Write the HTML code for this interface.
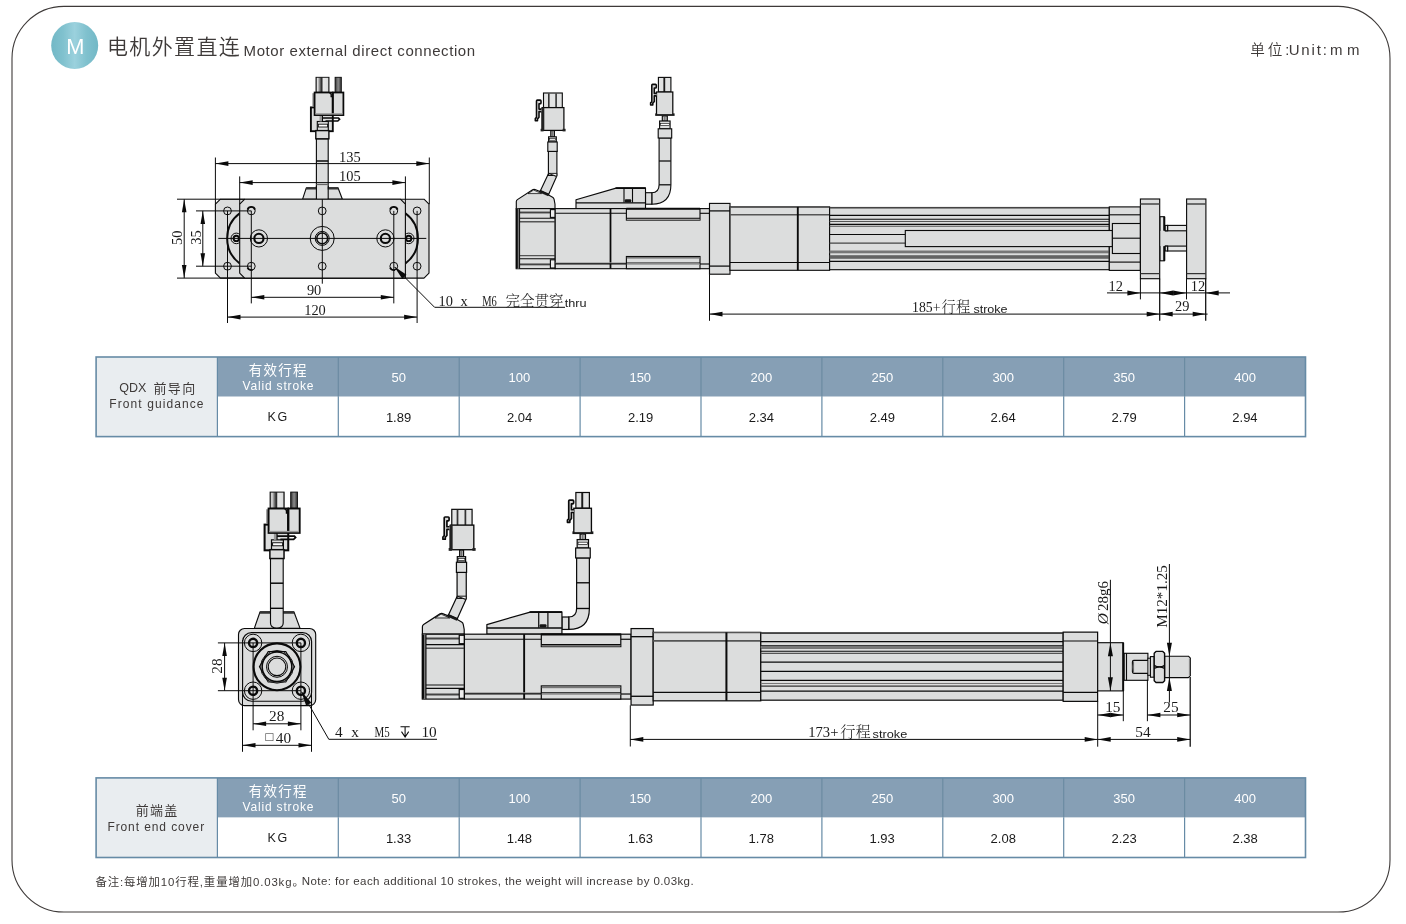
<!DOCTYPE html>
<html lang="zh-CN">
<head>
<meta charset="utf-8">
<title>电机外置直连 Motor external direct connection</title>
<style>
html,body{margin:0;padding:0;background:#fff;}
body{width:1406px;height:924px;position:relative;overflow:hidden;font-family:"Liberation Sans","Noto Sans CJK SC",sans-serif;color:#3e3a39;}
.t{position:absolute;white-space:pre;line-height:1;}
.w{color:#fff;}
.k{color:#1a1a1a;}
svg{position:absolute;left:0;top:0;}
svg{opacity:.999;}
header,section,footer{position:absolute;left:0;top:0;width:1406px;height:924px;will-change:transform;}
svg text{font-family:"Liberation Serif","Noto Serif CJK SC",serif;fill:#1a1a1a;}
svg text.s{font-family:"Liberation Sans","Noto Sans CJK SC",sans-serif;}
</style>
</head>
<body>
<svg width="1406" height="924" viewBox="0 0 1406 924">
<defs><linearGradient id="bg" x1="0" x2="1" y1="0" y2="0"><stop offset="0" stop-color="#72b8c6"/><stop offset=".25" stop-color="#80c1ce"/><stop offset=".5" stop-color="#9bd1dd"/><stop offset=".75" stop-color="#80c1ce"/><stop offset="1" stop-color="#72b8c6"/></linearGradient></defs>
<rect x="12" y="6.4" width="1378" height="905.6" rx="52" ry="52" fill="none" stroke="#3e3a39" stroke-width="1.1"/>
<circle cx="74.7" cy="45.5" r="23.5" fill="url(#bg)"/>
<rect x="96.1" y="357" width="121.3" height="79.6" fill="#e9edf0"/>
<rect x="217.4" y="357" width="1088.1" height="39.7" fill="#869fb5"/>
<rect x="217.4" y="396.7" width="1088.1" height="39.9" fill="#fff"/>
<line x1="217.4" y1="357" x2="217.4" y2="436.6" stroke="#668ba6" stroke-width="1.2"/>
<line x1="338.3" y1="357" x2="338.3" y2="396.7" stroke="#6b8ba2" stroke-width="1.2"/>
<line x1="338.3" y1="396.7" x2="338.3" y2="436.6" stroke="#668ba6" stroke-width="1.2"/>
<line x1="459.2" y1="357" x2="459.2" y2="396.7" stroke="#6b8ba2" stroke-width="1.2"/>
<line x1="459.2" y1="396.7" x2="459.2" y2="436.6" stroke="#668ba6" stroke-width="1.2"/>
<line x1="580.1" y1="357" x2="580.1" y2="396.7" stroke="#6b8ba2" stroke-width="1.2"/>
<line x1="580.1" y1="396.7" x2="580.1" y2="436.6" stroke="#668ba6" stroke-width="1.2"/>
<line x1="701" y1="357" x2="701" y2="396.7" stroke="#6b8ba2" stroke-width="1.2"/>
<line x1="701" y1="396.7" x2="701" y2="436.6" stroke="#668ba6" stroke-width="1.2"/>
<line x1="821.9" y1="357" x2="821.9" y2="396.7" stroke="#6b8ba2" stroke-width="1.2"/>
<line x1="821.9" y1="396.7" x2="821.9" y2="436.6" stroke="#668ba6" stroke-width="1.2"/>
<line x1="942.8" y1="357" x2="942.8" y2="396.7" stroke="#6b8ba2" stroke-width="1.2"/>
<line x1="942.8" y1="396.7" x2="942.8" y2="436.6" stroke="#668ba6" stroke-width="1.2"/>
<line x1="1063.7" y1="357" x2="1063.7" y2="396.7" stroke="#6b8ba2" stroke-width="1.2"/>
<line x1="1063.7" y1="396.7" x2="1063.7" y2="436.6" stroke="#668ba6" stroke-width="1.2"/>
<line x1="1184.6" y1="357" x2="1184.6" y2="396.7" stroke="#6b8ba2" stroke-width="1.2"/>
<line x1="1184.6" y1="396.7" x2="1184.6" y2="436.6" stroke="#668ba6" stroke-width="1.2"/>
<rect x="96.1" y="357" width="1209.4" height="79.6" fill="none" stroke="#668ba6" stroke-width="1.6"/>
<rect x="96.1" y="777.9" width="121.3" height="79.6" fill="#e9edf0"/>
<rect x="217.4" y="777.9" width="1088.1" height="39.7" fill="#869fb5"/>
<rect x="217.4" y="817.6" width="1088.1" height="39.9" fill="#fff"/>
<line x1="217.4" y1="777.9" x2="217.4" y2="857.5" stroke="#668ba6" stroke-width="1.2"/>
<line x1="338.3" y1="777.9" x2="338.3" y2="817.6" stroke="#6b8ba2" stroke-width="1.2"/>
<line x1="338.3" y1="817.6" x2="338.3" y2="857.5" stroke="#668ba6" stroke-width="1.2"/>
<line x1="459.2" y1="777.9" x2="459.2" y2="817.6" stroke="#6b8ba2" stroke-width="1.2"/>
<line x1="459.2" y1="817.6" x2="459.2" y2="857.5" stroke="#668ba6" stroke-width="1.2"/>
<line x1="580.1" y1="777.9" x2="580.1" y2="817.6" stroke="#6b8ba2" stroke-width="1.2"/>
<line x1="580.1" y1="817.6" x2="580.1" y2="857.5" stroke="#668ba6" stroke-width="1.2"/>
<line x1="701" y1="777.9" x2="701" y2="817.6" stroke="#6b8ba2" stroke-width="1.2"/>
<line x1="701" y1="817.6" x2="701" y2="857.5" stroke="#668ba6" stroke-width="1.2"/>
<line x1="821.9" y1="777.9" x2="821.9" y2="817.6" stroke="#6b8ba2" stroke-width="1.2"/>
<line x1="821.9" y1="817.6" x2="821.9" y2="857.5" stroke="#668ba6" stroke-width="1.2"/>
<line x1="942.8" y1="777.9" x2="942.8" y2="817.6" stroke="#6b8ba2" stroke-width="1.2"/>
<line x1="942.8" y1="817.6" x2="942.8" y2="857.5" stroke="#668ba6" stroke-width="1.2"/>
<line x1="1063.7" y1="777.9" x2="1063.7" y2="817.6" stroke="#6b8ba2" stroke-width="1.2"/>
<line x1="1063.7" y1="817.6" x2="1063.7" y2="857.5" stroke="#668ba6" stroke-width="1.2"/>
<line x1="1184.6" y1="777.9" x2="1184.6" y2="817.6" stroke="#6b8ba2" stroke-width="1.2"/>
<line x1="1184.6" y1="817.6" x2="1184.6" y2="857.5" stroke="#668ba6" stroke-width="1.2"/>
<rect x="96.1" y="777.9" width="1209.4" height="79.6" fill="none" stroke="#668ba6" stroke-width="1.6"/>
</svg>
<header>
<span class="t w" style="left:66.15px;top:35.65px;font-size:21.8px;">M</span>
<span class="t" style="left:106.95px;top:35.82px;font-size:21px;letter-spacing:1.380px;font-weight:350;">电机外置直连</span>
<span class="t" style="left:243.55px;top:42.90px;font-size:15px;letter-spacing:0.585px;">Motor external direct connection</span>
<span class="t" style="left:1250.35px;top:42.54px;font-size:14.6px;letter-spacing:2.825px;font-weight:350;">单位:</span>
<span class="t" style="left:1288.65px;top:42.30px;font-size:15px;letter-spacing:1.837px;">Unit:</span>
<span class="t" style="left:1330.00px;top:42.30px;font-size:15px;letter-spacing:4.400px;">mm</span>
</header>
<section>
<div role="table" aria-label="QDX 前导向 Front guidance">
<div role="row">
<div role="rowheader">
<span class="t" style="left:119.30px;top:382.32px;font-size:12.5px;letter-spacing:0.025px;">QDX</span>
<span class="t" style="left:153.45px;top:382.10px;font-size:13px;letter-spacing:1.350px;">前导向</span>
<span class="t" style="left:109.30px;top:398.49px;font-size:12px;letter-spacing:1.092px;">Front guidance</span>
</div>
<div role="columnheader">
<span class="t w" style="left:248.70px;top:364.32px;font-size:13.5px;letter-spacing:1.300px;">有效行程</span>
<span class="t w" style="left:242.50px;top:380.44px;font-size:12px;letter-spacing:0.832px;">Valid stroke</span>
</div>
<div role="columnheader"><span class="t w" style="left:391.50px;top:370.70px;font-size:13px;">50</span></div>
<div role="columnheader"><span class="t w" style="left:508.53px;top:370.70px;font-size:13px;">100</span></div>
<div role="columnheader"><span class="t w" style="left:629.42px;top:370.70px;font-size:13px;">150</span></div>
<div role="columnheader"><span class="t w" style="left:750.58px;top:370.70px;font-size:13px;">200</span></div>
<div role="columnheader"><span class="t w" style="left:871.48px;top:370.70px;font-size:13px;">250</span></div>
<div role="columnheader"><span class="t w" style="left:992.38px;top:370.70px;font-size:13px;">300</span></div>
<div role="columnheader"><span class="t w" style="left:1113.28px;top:370.70px;font-size:13px;">350</span></div>
<div role="columnheader"><span class="t w" style="left:1234.30px;top:370.70px;font-size:13px;">400</span></div>
</div>
<div role="row">
<div role="cell"><span class="t k" style="left:267.40px;top:411.02px;font-size:12.5px;letter-spacing:1.850px;">KG</span></div>
<div role="cell"><span class="t k" style="left:385.88px;top:410.60px;font-size:13px;">1.89</span></div>
<div role="cell"><span class="t k" style="left:506.90px;top:410.60px;font-size:13px;">2.04</span></div>
<div role="cell"><span class="t k" style="left:627.92px;top:410.60px;font-size:13px;">2.19</span></div>
<div role="cell"><span class="t k" style="left:748.70px;top:410.60px;font-size:13px;">2.34</span></div>
<div role="cell"><span class="t k" style="left:869.73px;top:410.60px;font-size:13px;">2.49</span></div>
<div role="cell"><span class="t k" style="left:990.50px;top:410.60px;font-size:13px;">2.64</span></div>
<div role="cell"><span class="t k" style="left:1111.53px;top:410.60px;font-size:13px;">2.79</span></div>
<div role="cell"><span class="t k" style="left:1232.30px;top:410.60px;font-size:13px;">2.94</span></div>
</div>
</div>
</section>
<section>
<div role="table" aria-label="前端盖 Front end cover">
<div role="row">
<div role="rowheader">
<span class="t" style="left:135.65px;top:804.10px;font-size:13px;letter-spacing:1.325px;">前端盖</span>
<span class="t" style="left:107.40px;top:821.04px;font-size:12px;letter-spacing:0.907px;">Front end cover</span>
</div>
<div role="columnheader">
<span class="t w" style="left:248.70px;top:785.32px;font-size:13.5px;letter-spacing:1.300px;">有效行程</span>
<span class="t w" style="left:242.50px;top:801.44px;font-size:12px;letter-spacing:0.832px;">Valid stroke</span>
</div>
<div role="columnheader"><span class="t w" style="left:391.50px;top:791.70px;font-size:13px;">50</span></div>
<div role="columnheader"><span class="t w" style="left:508.53px;top:791.70px;font-size:13px;">100</span></div>
<div role="columnheader"><span class="t w" style="left:629.42px;top:791.70px;font-size:13px;">150</span></div>
<div role="columnheader"><span class="t w" style="left:750.58px;top:791.70px;font-size:13px;">200</span></div>
<div role="columnheader"><span class="t w" style="left:871.48px;top:791.70px;font-size:13px;">250</span></div>
<div role="columnheader"><span class="t w" style="left:992.38px;top:791.70px;font-size:13px;">300</span></div>
<div role="columnheader"><span class="t w" style="left:1113.28px;top:791.70px;font-size:13px;">350</span></div>
<div role="columnheader"><span class="t w" style="left:1234.30px;top:791.70px;font-size:13px;">400</span></div>
</div>
<div role="row">
<div role="cell"><span class="t k" style="left:267.40px;top:832.02px;font-size:12.5px;letter-spacing:1.850px;">KG</span></div>
<div role="cell"><span class="t k" style="left:385.88px;top:831.60px;font-size:13px;">1.33</span></div>
<div role="cell"><span class="t k" style="left:506.78px;top:831.60px;font-size:13px;">1.48</span></div>
<div role="cell"><span class="t k" style="left:627.67px;top:831.60px;font-size:13px;">1.63</span></div>
<div role="cell"><span class="t k" style="left:748.58px;top:831.60px;font-size:13px;">1.78</span></div>
<div role="cell"><span class="t k" style="left:869.48px;top:831.60px;font-size:13px;">1.93</span></div>
<div role="cell"><span class="t k" style="left:990.62px;top:831.60px;font-size:13px;">2.08</span></div>
<div role="cell"><span class="t k" style="left:1111.53px;top:831.60px;font-size:13px;">2.23</span></div>
<div role="cell"><span class="t k" style="left:1232.43px;top:831.60px;font-size:13px;">2.38</span></div>
</div>
</div>
</section>
<footer>
<span class="t" style="left:95.50px;top:876.55px;font-size:11.4px;letter-spacing:0.876px;">备注:每增加10行程,重量增加0.03kg。</span>
<span class="t" style="left:301.80px;top:876.47px;font-size:11.5px;letter-spacing:0.417px;">Note: for each additional 10 strokes, the weight will increase by 0.03kg.</span>
</footer>
<svg width="1406" height="924" viewBox="0 0 1406 924">
<defs>
<linearGradient id="pinA" x1="0" x2="1" y1="0" y2="0"><stop offset="0" stop-color="#555"/><stop offset=".12" stop-color="#e4e4e4"/><stop offset=".3" stop-color="#777"/><stop offset=".45" stop-color="#222"/><stop offset=".55" stop-color="#e8e8e8"/><stop offset=".9" stop-color="#dcdddd"/><stop offset="1" stop-color="#555"/></linearGradient>
<linearGradient id="pinB" x1="0" x2="1" y1="0" y2="0"><stop offset="0" stop-color="#333"/><stop offset=".5" stop-color="#8a8a8a"/><stop offset="1" stop-color="#333"/></linearGradient>
</defs>
<g id="d1-end">
<rect x="316.4" y="138.8" width="11.8" height="60.4" fill="#dcdddd" stroke="#0a0a0a" stroke-width="1.12"/>
<line x1="316.4" y1="161" x2="328.2" y2="161" stroke="#0a0a0a" stroke-width="1.5"/>
<line x1="316.4" y1="184.5" x2="328.2" y2="184.5" stroke="#666" stroke-width="1.25"/>
<rect x="316" y="77.3" width="13" height="15" fill="url(#pinA)" stroke="#0a0a0a" stroke-width="0.9"/><rect x="335.1" y="77.3" width="6.2" height="15" fill="url(#pinB)" stroke="#0a0a0a" stroke-width="0.9"/><rect x="310.9" y="107.4" width="21.9" height="23.8" fill="#dcdddd" stroke="#0a0a0a" stroke-width="1.88"/><rect x="317.3" y="121.5" width="11" height="9.7" fill="#dcdddd" stroke="#0a0a0a" stroke-width="1.12"/><rect x="318.3" y="124.2" width="9.3" height="2.8" fill="#fff" stroke="#0a0a0a" stroke-width="0.88"/><path d="M322.2 115.3 V121.5 M322.2 118 H338.5 L339.6 119.3 L337.8 121 H325.5" fill="none" stroke="#0a0a0a" stroke-width="1.62"/><rect x="319.5" y="115.3" width="2.4" height="6.2" fill="#999"/><rect x="312.4" y="93.2" width="2.2" height="13.6" fill="#8a8a8a"/><rect x="314.6" y="92.5" width="18" height="22.6" fill="#dcdddd" stroke="#0a0a0a" stroke-width="1.75"/><rect x="333" y="92.5" width="10.4" height="22.6" fill="#dcdddd" stroke="#0a0a0a" stroke-width="1.75"/><rect x="315.3" y="113.2" width="27.4" height="1.4" fill="#9a9a9a"/><path d="M329.5 92.5 L331.2 94.2 V96.6 H332.6" fill="none" stroke="#0a0a0a" stroke-width="1.38"/><rect x="315.8" y="130.6" width="13.1" height="8.2" fill="#dcdddd" stroke="#0a0a0a" stroke-width="1.38"/>
<path d="M302.6 199.2 L306.3 187.8 L338 187.8 L342.4 199.2 Z" fill="#dcdddd" stroke="#0a0a0a" stroke-width="1.12" stroke-linejoin="round"/>
<path d="M305.7 189.5 L306.5 187.4 L338.2 187.4 L339 189.5 Z" fill="#333"/>
<rect x="316.9" y="186" width="10.8" height="13.2" fill="#dcdddd"/>
<line x1="316.4" y1="186" x2="316.4" y2="199.2" stroke="#0a0a0a" stroke-width="1.12"/>
<line x1="328.2" y1="186" x2="328.2" y2="199.2" stroke="#0a0a0a" stroke-width="1.12"/>
<path d="M220.4 199.2 L424 199.2 L429 204.2 L429 273.1 L424 278.1 L220.4 278.1 L215.4 273.1 L215.4 204.2 Z" fill="#dcdddd" stroke="#0a0a0a" stroke-width="1.12" stroke-linejoin="round"/>
<path d="M239.7 213.3 A31.4 31.4 0 0 0 239.7 263.5" fill="none" stroke="#0a0a0a" stroke-width="2"/>
<path d="M405.4 213.3 A31.4 31.4 0 0 1 405.4 263.5" fill="none" stroke="#0a0a0a" stroke-width="2"/>
<circle cx="236.3" cy="238.4" r="5.3" fill="none" stroke="#0a0a0a" stroke-width="1"/>
<circle cx="236.3" cy="238.4" r="2.7" fill="none" stroke="#0a0a0a" stroke-width="1.88"/>
<circle cx="408.7" cy="238.4" r="5.3" fill="none" stroke="#0a0a0a" stroke-width="1"/>
<circle cx="408.7" cy="238.4" r="2.7" fill="none" stroke="#0a0a0a" stroke-width="1.88"/>
<path d="M244.7 199.2 L400.4 199.2 L405.4 204.2 L405.4 278.1 L244.7 278.1 L239.7 273.1 L239.7 204.2 Z" fill="#dcdddd" stroke="#0a0a0a" stroke-width="1.12" stroke-linejoin="round"/>
<circle cx="227.5" cy="210.9" r="3.9" fill="none" stroke="#0a0a0a" stroke-width="1"/>
<circle cx="227.5" cy="266.2" r="3.9" fill="none" stroke="#0a0a0a" stroke-width="1"/>
<circle cx="251.3" cy="210.9" r="3.9" fill="none" stroke="#0a0a0a" stroke-width="1"/>
<circle cx="251.3" cy="266.2" r="3.9" fill="none" stroke="#0a0a0a" stroke-width="1"/>
<circle cx="322.2" cy="210.9" r="3.9" fill="none" stroke="#0a0a0a" stroke-width="1"/>
<circle cx="322.2" cy="266.2" r="3.9" fill="none" stroke="#0a0a0a" stroke-width="1"/>
<circle cx="393.8" cy="210.9" r="3.9" fill="none" stroke="#0a0a0a" stroke-width="1"/>
<circle cx="393.8" cy="266.2" r="3.9" fill="none" stroke="#0a0a0a" stroke-width="1"/>
<circle cx="417.1" cy="210.9" r="3.9" fill="none" stroke="#0a0a0a" stroke-width="1"/>
<circle cx="417.1" cy="266.2" r="3.9" fill="none" stroke="#0a0a0a" stroke-width="1"/>
<path d="M247.6 209.6 A3.9 3.9 0 0 1 255 209.6" fill="none" stroke="#0a0a0a" stroke-width="1.88"/>
<path d="M247.6 267.6 A3.9 3.9 0 0 0 252.5 269.9" fill="none" stroke="#0a0a0a" stroke-width="1.88"/>
<path d="M390.1 209.6 A3.9 3.9 0 0 1 397.5 209.6" fill="none" stroke="#0a0a0a" stroke-width="1.88"/>
<path d="M390.1 267.6 A3.9 3.9 0 0 0 395 269.9" fill="none" stroke="#0a0a0a" stroke-width="1.88"/>
<circle cx="322.2" cy="238.4" r="12" fill="none" stroke="#0a0a0a" stroke-width="1"/>
<circle cx="322.2" cy="238.4" r="7" fill="none" stroke="#0a0a0a" stroke-width="1"/>
<circle cx="322.2" cy="238.4" r="5.4" fill="none" stroke="#0a0a0a" stroke-width="1.5"/>
<circle cx="258.9" cy="238.4" r="8.6" fill="none" stroke="#0a0a0a" stroke-width="1"/>
<circle cx="258.9" cy="238.4" r="4.6" fill="none" stroke="#0a0a0a" stroke-width="2.12"/>
<circle cx="385.4" cy="238.4" r="8.6" fill="none" stroke="#0a0a0a" stroke-width="1"/>
<circle cx="385.4" cy="238.4" r="4.6" fill="none" stroke="#0a0a0a" stroke-width="2.12"/>
<line x1="218.3" y1="238.4" x2="426.3" y2="238.4" stroke="#0a0a0a" stroke-width="1"/>
<line x1="322.3" y1="199.2" x2="322.3" y2="283.7" stroke="#0a0a0a" stroke-width="1"/>
<line x1="215.4" y1="157.5" x2="215.4" y2="204.2" stroke="#0a0a0a" stroke-width="1"/>
<line x1="429.3" y1="157.5" x2="429.3" y2="204.2" stroke="#0a0a0a" stroke-width="1"/>
<line x1="215.4" y1="163.6" x2="429.3" y2="163.6" stroke="#0a0a0a" stroke-width="1"/><path d="M215.4 163.6 L228.4 161.3 L228.4 165.9 Z" fill="#0a0a0a"/><path d="M429.3 163.6 L416.3 165.9 L416.3 161.3 Z" fill="#0a0a0a"/>
<text transform="translate(349.9 161.7)" font-size="14.4" text-anchor="middle">135</text>
<line x1="239.7" y1="176.4" x2="239.7" y2="204.2" stroke="#0a0a0a" stroke-width="1"/>
<line x1="405.4" y1="176.4" x2="405.4" y2="204.2" stroke="#0a0a0a" stroke-width="1"/>
<line x1="239.7" y1="182.6" x2="405.4" y2="182.6" stroke="#0a0a0a" stroke-width="1"/><path d="M239.7 182.6 L252.7 180.3 L252.7 184.9 Z" fill="#0a0a0a"/><path d="M405.4 182.6 L392.4 184.9 L392.4 180.3 Z" fill="#0a0a0a"/>
<text transform="translate(349.9 180.9)" font-size="14.4" text-anchor="middle">105</text>
<line x1="177" y1="199.2" x2="244.7" y2="199.2" stroke="#0a0a0a" stroke-width="1"/>
<line x1="177" y1="278.1" x2="244.7" y2="278.1" stroke="#0a0a0a" stroke-width="1"/>
<line x1="184.2" y1="199.2" x2="184.2" y2="278.1" stroke="#0a0a0a" stroke-width="1"/><path d="M184.2 199.2 L186.5 212.2 L181.9 212.2 Z" fill="#0a0a0a"/><path d="M184.2 278.1 L181.9 265.1 L186.5 265.1 Z" fill="#0a0a0a"/>
<text transform="translate(181.8 237.7) rotate(-90)" font-size="14.4" text-anchor="middle">50</text>
<line x1="196" y1="210.9" x2="251.3" y2="210.9" stroke="#0a0a0a" stroke-width="1"/>
<line x1="196" y1="266.2" x2="251.3" y2="266.2" stroke="#0a0a0a" stroke-width="1"/>
<line x1="202.8" y1="210.9" x2="202.8" y2="266.2" stroke="#0a0a0a" stroke-width="1"/><path d="M202.8 210.9 L205.1 223.9 L200.5 223.9 Z" fill="#0a0a0a"/><path d="M202.8 266.2 L200.5 253.2 L205.1 253.2 Z" fill="#0a0a0a"/>
<text transform="translate(200.5 237.6) rotate(-90)" font-size="14.4" text-anchor="middle">35</text>
<line x1="251.3" y1="210.9" x2="251.3" y2="303.4" stroke="#0a0a0a" stroke-width="1"/>
<line x1="393.8" y1="210.9" x2="393.8" y2="303.4" stroke="#0a0a0a" stroke-width="1"/>
<line x1="251.3" y1="297.3" x2="393.8" y2="297.3" stroke="#0a0a0a" stroke-width="1"/><path d="M251.3 297.3 L264.3 295 L264.3 299.6 Z" fill="#0a0a0a"/><path d="M393.8 297.3 L380.8 299.6 L380.8 295 Z" fill="#0a0a0a"/>
<text transform="translate(314.1 294.8)" font-size="14.4" text-anchor="middle">90</text>
<line x1="227.5" y1="210.9" x2="227.5" y2="323" stroke="#0a0a0a" stroke-width="1"/>
<line x1="417.1" y1="210.9" x2="417.1" y2="323" stroke="#0a0a0a" stroke-width="1"/>
<line x1="227.5" y1="317.1" x2="417.1" y2="317.1" stroke="#0a0a0a" stroke-width="1"/><path d="M227.5 317.1 L240.5 314.8 L240.5 319.4 Z" fill="#0a0a0a"/><path d="M417.1 317.1 L404.1 319.4 L404.1 314.8 Z" fill="#0a0a0a"/>
<text transform="translate(315 315)" font-size="14.4" text-anchor="middle">120</text>
<path d="M394.6 267 L434.6 307.3 H565" fill="none" stroke="#0a0a0a" stroke-width="1"/>
<path d="M394.2 266.6 L406.46 274.87 L402.34 278.95 Z" fill="#0a0a0a"/>
<text transform="translate(438.6 305.6)" font-size="14.4">10</text>
<text transform="translate(460.6 305.6)" font-size="14.4">x</text>
<text transform="translate(482.2 305.6)" font-size="14.4" textLength="14.6" lengthAdjust="spacingAndGlyphs">M6</text>
<text transform="translate(505.4 305.6)" font-size="14.5" textLength="58.2" lengthAdjust="spacingAndGlyphs" font-weight="300">完全贯穿</text>
<text transform="translate(564.8 306.6)" font-size="11.2" class="s" textLength="21.8" lengthAdjust="spacingAndGlyphs">thru</text>
</g>
<g id="d1-side">
<path d="M548.3 174 L556.7 176.2 L548.6 194.4 L540.4 190.8 Z" fill="#dcdddd" stroke="#0a0a0a" stroke-width="1.12" stroke-linejoin="round"/>
<rect x="548.4" y="151.2" width="8.5" height="24.2" fill="#dcdddd" stroke="#0a0a0a" stroke-width="1.12"/>
<path d="M548.6 173.4 L556.7 176.4 L556.9 173.4 Z" fill="#f0f0f0" stroke="#0a0a0a" stroke-width="0.88" stroke-linejoin="round"/>
<rect x="550.8" y="130.6" width="3.6" height="6.4" fill="#b5b5b5" stroke="#0a0a0a" stroke-width="1.12"/>
<line x1="552.6" y1="131" x2="552.6" y2="136.8" stroke="#666" stroke-width="0.88"/>
<rect x="548.6" y="136.8" width="7.7" height="5.2" fill="#dcdddd" stroke="#0a0a0a" stroke-width="1.12"/>
<rect x="549.4" y="138.4" width="6.2" height="1.8" fill="#fff" stroke="#0a0a0a" stroke-width="0.62"/>
<rect x="547.8" y="142" width="9.4" height="9.4" fill="#dcdddd" stroke="#0a0a0a" stroke-width="1.12"/>
<rect x="543.5" y="93" width="18.8" height="15" fill="#e2e3e3" stroke="#0a0a0a" stroke-width="1.12"/>
<rect x="548" y="93.4" width="1.6" height="14.6" fill="#333"/>
<rect x="555.3" y="93.4" width="1.6" height="14.6" fill="#333"/>
<rect x="542.2" y="107.6" width="21.7" height="22.8" fill="#dcdddd" stroke="#0a0a0a" stroke-width="1.25"/>
<rect x="541.4" y="107.6" width="2.9" height="22.8" fill="#222"/>
<rect x="540.6" y="128.8" width="3" height="2.6" fill="#222"/>
<rect x="562.6" y="128.8" width="3" height="2.6" fill="#222"/>
<g transform="translate(0 0)"><path d="M541.4 109.1 H539 V103.7 H540.2 Q541 103.7 541 102.9 V100.9 Q541 100.1 540.2 100.1 H537.3 Q536.5 100.1 536.5 100.9 V117.4 L535.3 118.6 V120.7 H537.5 V118.9 L539 117.2 V111.6 H541.4" fill="#d8d8d8" stroke="#0a0a0a" stroke-width="1.56" stroke-linejoin="round"/></g>
<path d="M659.1 138 V184.8 Q659.1 192.7 651.8 192.7 V204.2 Q670.9 204.2 670.9 184.8 V138 Z" fill="#dcdddd" stroke="#0a0a0a" stroke-width="1.12"/>
<line x1="659.1" y1="161" x2="670.8" y2="161" stroke="#0a0a0a" stroke-width="1.25"/>
<line x1="659.1" y1="184.8" x2="670.8" y2="184.8" stroke="#0a0a0a" stroke-width="1.25"/>
<rect x="645.5" y="192.7" width="6.3" height="11.5" fill="#dcdddd" stroke="#0a0a0a" stroke-width="1.12"/>
<rect x="662.3" y="115.9" width="5" height="5.3" fill="#b5b5b5" stroke="#0a0a0a" stroke-width="1.12"/>
<line x1="664.8" y1="116" x2="664.8" y2="121" stroke="#666" stroke-width="1"/>
<rect x="659.6" y="121" width="10.5" height="7.8" fill="#dcdddd" stroke="#0a0a0a" stroke-width="1.12"/>
<rect x="660.4" y="123.4" width="8.9" height="2" fill="#fff" stroke="#0a0a0a" stroke-width="0.62"/>
<rect x="658.2" y="128.8" width="13.5" height="9.2" fill="#dcdddd" stroke="#0a0a0a" stroke-width="1.12"/>
<rect x="658.4" y="77.4" width="12.5" height="14.6" fill="#e2e3e3" stroke="#0a0a0a" stroke-width="1.12"/>
<rect x="663.4" y="77.8" width="1.8" height="14.2" fill="#1a1a1a"/>
<rect x="656.5" y="92" width="16.3" height="22.2" fill="#dcdddd" stroke="#0a0a0a" stroke-width="1.25"/>
<rect x="655.2" y="113.4" width="19.4" height="2.5" fill="#1a1a1a"/>
<rect x="657.2" y="112.8" width="14.9" height="1.3" fill="#dcdddd"/>
<g transform="translate(115.3 -15.7)"><path d="M541.4 109.1 H539 V103.7 H540.2 Q541 103.7 541 102.9 V100.9 Q541 100.1 540.2 100.1 H537.3 Q536.5 100.1 536.5 100.9 V117.4 L535.3 118.6 V120.7 H537.5 V118.9 L539 117.2 V111.6 H541.4" fill="#d8d8d8" stroke="#0a0a0a" stroke-width="1.56" stroke-linejoin="round"/></g>
<path d="M576 208.6 L576 199.7 L616.9 187.9 L645.5 187.9 L645.5 208.6 Z" fill="#dcdddd" stroke="#0a0a0a" stroke-width="1.12" stroke-linejoin="round"/>
<line x1="576" y1="202.9" x2="645.5" y2="202.9" stroke="#0a0a0a" stroke-width="1.38"/>
<line x1="615.5" y1="188.2" x2="645.5" y2="188.2" stroke="#0a0a0a" stroke-width="1.62"/>
<line x1="624" y1="187.9" x2="624" y2="202.6" stroke="#0a0a0a" stroke-width="1.12"/>
<line x1="632.5" y1="187.9" x2="632.5" y2="202.6" stroke="#0a0a0a" stroke-width="1.12"/>
<rect x="624.8" y="199.3" width="6.4" height="3.1" rx="1" fill="#151515"/>
<path d="M516.3 208.6 V201.6 Q516.3 200.3 517.4 199.6 L532.6 189.8 Q533.8 189.1 535 189.6 L548.6 195 L552.6 197.3 Q553.8 198 554.1 199.4 L555 204.2 V208.6 Z" fill="#dcdddd" stroke="#0a0a0a" stroke-width="1.12"/>
<path d="M528 193.6 L533.6 190 L541.6 193.6 Z" fill="#e4e5e5" stroke="#0a0a0a" stroke-width="0.75" stroke-linejoin="round"/>
<path d="M540.2 190.2 L548.9 194 L548.1 195.8 L539.4 192 Z" fill="#1a1a1a" stroke="#0a0a0a" stroke-width="0.62" stroke-linejoin="round"/>
<rect x="516.2" y="208.6" width="39" height="60.1" fill="#dcdddd" stroke="#0a0a0a" stroke-width="1.12"/>
<line x1="519.6" y1="212.5" x2="550.4" y2="212.5" stroke="#444" stroke-width="1.88"/>
<line x1="519.6" y1="218.3" x2="555.2" y2="218.3" stroke="#0a0a0a" stroke-width="1.12"/>
<line x1="519.6" y1="221.7" x2="555.2" y2="221.7" stroke="#555" stroke-width="1.38"/>
<line x1="519.6" y1="255.6" x2="555.2" y2="255.6" stroke="#555" stroke-width="1.38"/>
<line x1="519.6" y1="258.7" x2="555.2" y2="258.7" stroke="#0a0a0a" stroke-width="1.12"/>
<line x1="519.6" y1="264.4" x2="550.4" y2="264.4" stroke="#444" stroke-width="1.88"/>
<rect x="516.6" y="208.6" width="3" height="60.1" fill="#777"/>
<line x1="519.6" y1="208.6" x2="519.6" y2="268.7" stroke="#0a0a0a" stroke-width="1"/>
<line x1="516.8" y1="209" x2="516.8" y2="268.4" stroke="#0a0a0a" stroke-width="1.88"/>
<rect x="550.4" y="209.6" width="4.8" height="7.8" fill="#eee" stroke="#0a0a0a" stroke-width="1.12"/>
<rect x="550.4" y="259.8" width="4.8" height="8.2" fill="#eee" stroke="#0a0a0a" stroke-width="1.12"/>
<rect x="555.2" y="208.6" width="154.3" height="60.1" fill="#dcdddd" stroke="#0a0a0a" stroke-width="1.12"/>
<line x1="610.5" y1="208.6" x2="610.5" y2="268.7" stroke="#0a0a0a" stroke-width="1.75"/>
<line x1="555.2" y1="213.3" x2="626.4" y2="213.3" stroke="#0a0a0a" stroke-width="1.12"/>
<line x1="700" y1="213.3" x2="709.5" y2="213.3" stroke="#0a0a0a" stroke-width="1.12"/>
<rect x="555.6" y="262.4" width="70.8" height="1.4" fill="#9a9a9a"/>
<line x1="555.2" y1="263.9" x2="626.4" y2="263.9" stroke="#0a0a0a" stroke-width="1.12"/>
<line x1="700" y1="264" x2="709.5" y2="264" stroke="#0a0a0a" stroke-width="1.12"/>
<rect x="626.4" y="208.6" width="73.6" height="11.5" fill="#dcdddd" stroke="#0a0a0a" stroke-width="1.12"/>
<line x1="626.4" y1="208.8" x2="700" y2="208.8" stroke="#0a0a0a" stroke-width="1.88"/>
<rect x="626.8" y="218.4" width="72.8" height="1.6" fill="#999"/>
<line x1="626.4" y1="218.3" x2="700" y2="218.3" stroke="#0a0a0a" stroke-width="1.12"/>
<rect x="626.4" y="256.5" width="73.6" height="12.2" fill="#dcdddd" stroke="#0a0a0a" stroke-width="1.12"/>
<rect x="626.8" y="257" width="72.8" height="1.6" fill="#777"/>
<line x1="626.4" y1="263" x2="700" y2="263" stroke="#0a0a0a" stroke-width="1.12"/>
<rect x="626.8" y="263.4" width="72.8" height="1.4" fill="#999"/>
<rect x="709.5" y="203.4" width="20.5" height="70.8" fill="#dcdddd" stroke="#0a0a0a" stroke-width="1.12"/>
<line x1="709.5" y1="210.9" x2="730" y2="210.9" stroke="#0a0a0a" stroke-width="1.25"/>
<line x1="709.5" y1="266.1" x2="730" y2="266.1" stroke="#0a0a0a" stroke-width="1.25"/>
<rect x="730" y="206.9" width="99.6" height="63.4" fill="#dcdddd" stroke="#0a0a0a" stroke-width="1.12"/>
<line x1="730" y1="214.8" x2="829.6" y2="214.8" stroke="#555" stroke-width="1.5"/>
<line x1="730" y1="207.2" x2="829.6" y2="207.2" stroke="#555" stroke-width="1.25"/>
<line x1="730" y1="262.5" x2="829.6" y2="262.5" stroke="#0a0a0a" stroke-width="1.12"/>
<line x1="797.8" y1="206.9" x2="797.8" y2="270.3" stroke="#0a0a0a" stroke-width="1.88"/>
<rect x="829.6" y="207.5" width="279.7" height="62.2" fill="#dcdddd" stroke="#0a0a0a" stroke-width="1.12"/>
<line x1="829.6" y1="207.8" x2="1109.3" y2="207.8" stroke="#444" stroke-width="1.38"/>
<line x1="829.6" y1="215.4" x2="1109.3" y2="215.4" stroke="#0a0a0a" stroke-width="1.12"/>
<line x1="829.6" y1="219.3" x2="1109.3" y2="219.3" stroke="#0a0a0a" stroke-width="1.12"/>
<line x1="829.6" y1="221.5" x2="1109.3" y2="221.5" stroke="#555" stroke-width="1.12"/>
<line x1="829.6" y1="224.4" x2="1109.3" y2="224.4" stroke="#0a0a0a" stroke-width="1.12"/>
<line x1="829.6" y1="226.3" x2="1109.3" y2="226.3" stroke="#555" stroke-width="1.12"/>
<line x1="829.6" y1="234.5" x2="905.3" y2="234.5" stroke="#0a0a0a" stroke-width="1.12"/>
<line x1="829.6" y1="243.1" x2="905.3" y2="243.1" stroke="#444" stroke-width="1.12"/>
<rect x="829.6" y="250.5" width="279.7" height="2.8" fill="#777"/>
<rect x="829.6" y="255.2" width="279.7" height="3.6" fill="#636363"/>
<line x1="829.6" y1="261.4" x2="1109.3" y2="261.4" stroke="#0a0a0a" stroke-width="1.12"/>
<rect x="1109.3" y="206.9" width="31.1" height="63.5" fill="#dcdddd" stroke="#0a0a0a" stroke-width="1.12"/>
<line x1="1109.3" y1="214.8" x2="1140.4" y2="214.8" stroke="#0a0a0a" stroke-width="1.12"/>
<line x1="1109.3" y1="262.1" x2="1140.4" y2="262.1" stroke="#0a0a0a" stroke-width="1.12"/>
<rect x="905.3" y="230.5" width="207.1" height="16.1" fill="#dcdddd" stroke="#0a0a0a" stroke-width="1.12"/>
<rect x="1112.4" y="223.5" width="28" height="30" fill="#dcdddd" stroke="#0a0a0a" stroke-width="1.12"/>
<line x1="1112.4" y1="238.2" x2="1140.4" y2="238.2" stroke="#0a0a0a" stroke-width="1.12"/>
<rect x="1167.6" y="225.4" width="19" height="25.6" fill="#e6e7e7" stroke="#0a0a0a" stroke-width="1.12"/>
<rect x="1159.9" y="230.8" width="26.7" height="15.3" fill="#dcdddd" stroke="#0a0a0a" stroke-width="1.12"/>
<rect x="1159.9" y="216.7" width="4.4" height="44.1" fill="#e4e5e5" stroke="#0a0a0a" stroke-width="1.12"/>
<line x1="1164.3" y1="216.7" x2="1164.3" y2="230.8" stroke="#0a0a0a" stroke-width="2"/>
<line x1="1164.3" y1="246.1" x2="1164.3" y2="260.8" stroke="#0a0a0a" stroke-width="2"/>
<rect x="1159.9" y="230.8" width="5.1" height="15.3" fill="#dcdddd"/>
<rect x="1165.2" y="225.4" width="2.4" height="5.4" fill="#ddd" stroke="#0a0a0a" stroke-width="1.12"/>
<rect x="1165.2" y="246.1" width="2.4" height="4.9" fill="#ddd" stroke="#0a0a0a" stroke-width="1.12"/>
<rect x="1140.4" y="199" width="19.3" height="79.7" fill="#dcdddd" stroke="#0a0a0a" stroke-width="1.12"/>
<line x1="1140.4" y1="204" x2="1159.7" y2="204" stroke="#444" stroke-width="1.5"/>
<line x1="1140.4" y1="273.6" x2="1159.7" y2="273.6" stroke="#333" stroke-width="1.25"/>
<rect x="1186.6" y="199" width="19.3" height="79.7" fill="#dcdddd" stroke="#0a0a0a" stroke-width="1.12"/>
<line x1="1186.6" y1="204" x2="1205.9" y2="204" stroke="#444" stroke-width="1.5"/>
<line x1="1186.6" y1="273.6" x2="1205.9" y2="273.6" stroke="#333" stroke-width="1.25"/>
<line x1="1140.4" y1="278.7" x2="1140.4" y2="299.4" stroke="#0a0a0a" stroke-width="1"/>
<line x1="1186.5" y1="278.7" x2="1186.5" y2="299.4" stroke="#0a0a0a" stroke-width="1"/>
<line x1="1159.7" y1="278.7" x2="1159.7" y2="320.8" stroke="#0a0a0a" stroke-width="1.25"/>
<line x1="1205.7" y1="278.7" x2="1205.7" y2="320.8" stroke="#0a0a0a" stroke-width="1.25"/>
<line x1="1107" y1="292.9" x2="1230" y2="292.9" stroke="#0a0a0a" stroke-width="1"/>
<path d="M1140.4 292.9 L1127.4 295.4 L1127.4 290.4 Z" fill="#0a0a0a"/>
<path d="M1159.7 292.9 L1173.1 290.4 L1173.1 295.4 Z" fill="#0a0a0a"/>
<path d="M1186.5 292.9 L1173.1 295.4 L1173.1 290.4 Z" fill="#0a0a0a"/>
<path d="M1205.7 292.9 L1218.7 290.4 L1218.7 295.4 Z" fill="#0a0a0a"/>
<text transform="translate(1115.7 290.8)" font-size="14.4" text-anchor="middle">12</text>
<text transform="translate(1197.9 290.8)" font-size="14.4" text-anchor="middle">12</text>
<line x1="709.5" y1="274.2" x2="709.5" y2="320.8" stroke="#0a0a0a" stroke-width="1"/>
<line x1="709.5" y1="314.1" x2="1159.7" y2="314.1" stroke="#0a0a0a" stroke-width="1"/><path d="M709.5 314.1 L722.5 311.8 L722.5 316.4 Z" fill="#0a0a0a"/><path d="M1159.7 314.1 L1146.7 316.4 L1146.7 311.8 Z" fill="#0a0a0a"/>
<line x1="1159.7" y1="314.1" x2="1205.7" y2="314.1" stroke="#0a0a0a" stroke-width="1"/><path d="M1159.7 314.1 L1172.7 311.8 L1172.7 316.4 Z" fill="#0a0a0a"/><path d="M1205.7 314.1 L1192.7 316.4 L1192.7 311.8 Z" fill="#0a0a0a"/>
<line x1="1205.7" y1="314.1" x2="1207.6" y2="314.1" stroke="#0a0a0a" stroke-width="1"/>
<text transform="translate(1182.2 311.3)" font-size="14.4" text-anchor="middle">29</text>
<text transform="translate(912 311.7)" font-size="14.4" textLength="28.4" lengthAdjust="spacingAndGlyphs">185+</text>
<text transform="translate(941.6 312.3)" font-size="14.4" textLength="28.6" lengthAdjust="spacingAndGlyphs" font-weight="300">行程</text>
<text transform="translate(973.4 313)" font-size="11.6" class="s" textLength="34.2" lengthAdjust="spacingAndGlyphs">stroke</text>
</g>
<g id="d2-end">
<path d="M254.3 628.4 L260.1 611.8 L293.9 611.8 L300.1 628.4 Z" fill="#dcdddd" stroke="#0a0a0a" stroke-width="1.12" stroke-linejoin="round"/>
<path d="M259.3 613.8 L260.2 611.4 L293.8 611.4 L294.7 613.8 Z" fill="#333"/>
<path d="M270.5 558.5 V623 Q270.5 628 276.8 628 Q283.2 628 283.2 623 V558.5 Z" fill="#dcdddd" stroke="#0a0a0a" stroke-width="1.12"/>
<line x1="270.5" y1="583.2" x2="283.2" y2="583.2" stroke="#0a0a0a" stroke-width="1.5"/>
<line x1="270.5" y1="608.3" x2="283.2" y2="608.3" stroke="#0a0a0a" stroke-width="1.38"/>
<g transform="translate(-71.18 408.62) scale(1.08)"><rect x="316" y="77.3" width="13" height="15" fill="url(#pinA)" stroke="#0a0a0a" stroke-width="0.9"/><rect x="335.1" y="77.3" width="6.2" height="15" fill="url(#pinB)" stroke="#0a0a0a" stroke-width="0.9"/><rect x="310.9" y="107.4" width="21.9" height="23.8" fill="#dcdddd" stroke="#0a0a0a" stroke-width="1.88"/><rect x="317.3" y="121.5" width="11" height="9.7" fill="#dcdddd" stroke="#0a0a0a" stroke-width="1.12"/><rect x="318.3" y="124.2" width="9.3" height="2.8" fill="#fff" stroke="#0a0a0a" stroke-width="0.88"/><path d="M322.2 115.3 V121.5 M322.2 118 H338.5 L339.6 119.3 L337.8 121 H325.5" fill="none" stroke="#0a0a0a" stroke-width="1.62"/><rect x="319.5" y="115.3" width="2.4" height="6.2" fill="#999"/><rect x="312.4" y="93.2" width="2.2" height="13.6" fill="#8a8a8a"/><rect x="314.6" y="92.5" width="18" height="22.6" fill="#dcdddd" stroke="#0a0a0a" stroke-width="1.75"/><rect x="333" y="92.5" width="10.4" height="22.6" fill="#dcdddd" stroke="#0a0a0a" stroke-width="1.75"/><rect x="315.3" y="113.2" width="27.4" height="1.4" fill="#9a9a9a"/><path d="M329.5 92.5 L331.2 94.2 V96.6 H332.6" fill="none" stroke="#0a0a0a" stroke-width="1.38"/><rect x="315.8" y="130.6" width="13.1" height="8.2" fill="#dcdddd" stroke="#0a0a0a" stroke-width="1.38"/></g>
<rect x="238.5" y="628.5" width="77.2" height="77.1" rx="6" fill="#dcdddd" stroke="#0a0a0a" stroke-width="1.12"/>
<rect x="242.6" y="632.6" width="69" height="68.6" rx="9" fill="#dcdddd" stroke="#0a0a0a" stroke-width="1.12"/>
<circle cx="253.1" cy="642.9" r="8.7" fill="none" stroke="#0a0a0a" stroke-width="1"/>
<circle cx="253.1" cy="642.9" r="4.1" fill="none" stroke="#0a0a0a" stroke-width="2.38"/>
<circle cx="253.1" cy="690.7" r="8.7" fill="none" stroke="#0a0a0a" stroke-width="1"/>
<circle cx="253.1" cy="690.7" r="4.1" fill="none" stroke="#0a0a0a" stroke-width="2.38"/>
<circle cx="300.9" cy="642.9" r="8.7" fill="none" stroke="#0a0a0a" stroke-width="1"/>
<circle cx="300.9" cy="642.9" r="4.1" fill="none" stroke="#0a0a0a" stroke-width="2.38"/>
<circle cx="300.9" cy="690.7" r="8.7" fill="none" stroke="#0a0a0a" stroke-width="1"/>
<circle cx="300.9" cy="690.7" r="4.1" fill="none" stroke="#0a0a0a" stroke-width="2.38"/>
<circle cx="277" cy="666.8" r="23.4" fill="#dcdddd" stroke="#0a0a0a" stroke-width="2.12"/>
<path d="M294.6 666.8 L285.8 682.04 L268.2 682.04 L259.4 666.8 L268.2 651.56 L285.8 651.56 Z" fill="none" stroke="#0a0a0a" stroke-width="1.12" stroke-linejoin="round"/>
<circle cx="277" cy="666.8" r="16.4" fill="none" stroke="#0a0a0a" stroke-width="0.88"/>
<circle cx="277" cy="666.8" r="14.8" fill="none" stroke="#0a0a0a" stroke-width="1.5"/>
<circle cx="277" cy="666.8" r="10.5" fill="none" stroke="#0a0a0a" stroke-width="1"/>
<circle cx="277" cy="666.8" r="8.8" fill="none" stroke="#0a0a0a" stroke-width="1.12"/>
<line x1="217.9" y1="642.9" x2="300.9" y2="642.9" stroke="#0a0a0a" stroke-width="1"/>
<line x1="217.9" y1="690.7" x2="300.9" y2="690.7" stroke="#0a0a0a" stroke-width="1"/>
<line x1="224.6" y1="642.9" x2="224.6" y2="690.7" stroke="#0a0a0a" stroke-width="1"/><path d="M224.6 642.9 L226.9 655.9 L222.3 655.9 Z" fill="#0a0a0a"/><path d="M224.6 690.7 L222.3 677.7 L226.9 677.7 Z" fill="#0a0a0a"/>
<text transform="translate(221.8 666) rotate(-90)" font-size="15.3" text-anchor="middle">28</text>
<line x1="253.1" y1="642.9" x2="253.1" y2="730.3" stroke="#0a0a0a" stroke-width="1"/>
<line x1="300.9" y1="642.9" x2="300.9" y2="730.3" stroke="#0a0a0a" stroke-width="1"/>
<line x1="253.1" y1="723.8" x2="300.9" y2="723.8" stroke="#0a0a0a" stroke-width="1"/><path d="M253.1 723.8 L266.1 721.5 L266.1 726.1 Z" fill="#0a0a0a"/><path d="M300.9 723.8 L287.9 726.1 L287.9 721.5 Z" fill="#0a0a0a"/>
<text transform="translate(276.7 720.7)" font-size="15.3" text-anchor="middle">28</text>
<line x1="242.5" y1="640" x2="242.5" y2="751.8" stroke="#0a0a0a" stroke-width="1"/>
<line x1="311.5" y1="640" x2="311.5" y2="751.8" stroke="#0a0a0a" stroke-width="1"/>
<line x1="242.5" y1="745.3" x2="311.5" y2="745.3" stroke="#0a0a0a" stroke-width="1"/><path d="M242.5 745.3 L255.5 743 L255.5 747.6 Z" fill="#0a0a0a"/><path d="M311.5 745.3 L298.5 747.6 L298.5 743 Z" fill="#0a0a0a"/>
<text transform="translate(265.4 741.4)" font-size="13">□</text>
<text transform="translate(283.5 742.5)" font-size="15.3" text-anchor="middle">40</text>
<path d="M301.6 691.8 L328.8 739.3 H437" fill="none" stroke="#0a0a0a" stroke-width="1"/>
<path d="M301.3 691.2 L311.36 702.73 L306.15 705.71 Z" fill="#0a0a0a"/>
<text transform="translate(334.9 737.1)" font-size="15.3">4</text>
<text transform="translate(351.2 737.1)" font-size="15.3">x</text>
<text transform="translate(374.4 737.1)" font-size="15.3" textLength="15.2" lengthAdjust="spacingAndGlyphs">M5</text>
<path d="M400.5 726.8 H409.7 M405.1 726.8 V736.8 M401.5 731.6 L405.1 737.1 L408.7 731.6" fill="none" stroke="#0a0a0a" stroke-width="1.06"/>
<text transform="translate(421.4 737.1)" font-size="15.3">10</text>
</g>
<g id="d2-side">
<g transform="translate(-135.2 408.9) scale(1.08)">
<path d="M548.3 174 L556.7 176.2 L548.6 194.4 L540.4 190.8 Z" fill="#dcdddd" stroke="#0a0a0a" stroke-width="1.12" stroke-linejoin="round"/>
<rect x="548.4" y="151.2" width="8.5" height="24.2" fill="#dcdddd" stroke="#0a0a0a" stroke-width="1.12"/>
<path d="M548.6 173.4 L556.7 176.4 L556.9 173.4 Z" fill="#f0f0f0" stroke="#0a0a0a" stroke-width="0.88" stroke-linejoin="round"/>
<rect x="550.8" y="130.6" width="3.6" height="6.4" fill="#b5b5b5" stroke="#0a0a0a" stroke-width="1.12"/>
<line x1="552.6" y1="131" x2="552.6" y2="136.8" stroke="#666" stroke-width="0.88"/>
<rect x="548.6" y="136.8" width="7.7" height="5.2" fill="#dcdddd" stroke="#0a0a0a" stroke-width="1.12"/>
<rect x="549.4" y="138.4" width="6.2" height="1.8" fill="#fff" stroke="#0a0a0a" stroke-width="0.62"/>
<rect x="547.8" y="142" width="9.4" height="9.4" fill="#dcdddd" stroke="#0a0a0a" stroke-width="1.12"/>
<rect x="543.5" y="93" width="18.8" height="15" fill="#e2e3e3" stroke="#0a0a0a" stroke-width="1.12"/>
<rect x="548" y="93.4" width="1.6" height="14.6" fill="#333"/>
<rect x="555.3" y="93.4" width="1.6" height="14.6" fill="#333"/>
<rect x="542.2" y="107.6" width="21.7" height="22.8" fill="#dcdddd" stroke="#0a0a0a" stroke-width="1.25"/>
<rect x="541.4" y="107.6" width="2.9" height="22.8" fill="#222"/>
<rect x="540.6" y="128.8" width="3" height="2.6" fill="#222"/>
<rect x="562.6" y="128.8" width="3" height="2.6" fill="#222"/>
<g transform="translate(0 0)"><path d="M541.4 109.1 H539 V103.7 H540.2 Q541 103.7 541 102.9 V100.9 Q541 100.1 540.2 100.1 H537.3 Q536.5 100.1 536.5 100.9 V117.4 L535.3 118.6 V120.7 H537.5 V118.9 L539 117.2 V111.6 H541.4" fill="#d8d8d8" stroke="#0a0a0a" stroke-width="1.56" stroke-linejoin="round"/></g>
<path d="M659.1 138 V184.8 Q659.1 192.7 651.8 192.7 V204.2 Q670.9 204.2 670.9 184.8 V138 Z" fill="#dcdddd" stroke="#0a0a0a" stroke-width="1.12"/>
<line x1="659.1" y1="161" x2="670.8" y2="161" stroke="#0a0a0a" stroke-width="1.25"/>
<line x1="659.1" y1="184.8" x2="670.8" y2="184.8" stroke="#0a0a0a" stroke-width="1.25"/>
<rect x="645.5" y="192.7" width="6.3" height="11.5" fill="#dcdddd" stroke="#0a0a0a" stroke-width="1.12"/>
<rect x="662.3" y="115.9" width="5" height="5.3" fill="#b5b5b5" stroke="#0a0a0a" stroke-width="1.12"/>
<line x1="664.8" y1="116" x2="664.8" y2="121" stroke="#666" stroke-width="1"/>
<rect x="659.6" y="121" width="10.5" height="7.8" fill="#dcdddd" stroke="#0a0a0a" stroke-width="1.12"/>
<rect x="660.4" y="123.4" width="8.9" height="2" fill="#fff" stroke="#0a0a0a" stroke-width="0.62"/>
<rect x="658.2" y="128.8" width="13.5" height="9.2" fill="#dcdddd" stroke="#0a0a0a" stroke-width="1.12"/>
<rect x="658.4" y="77.4" width="12.5" height="14.6" fill="#e2e3e3" stroke="#0a0a0a" stroke-width="1.12"/>
<rect x="663.4" y="77.8" width="1.8" height="14.2" fill="#1a1a1a"/>
<rect x="656.5" y="92" width="16.3" height="22.2" fill="#dcdddd" stroke="#0a0a0a" stroke-width="1.25"/>
<rect x="655.2" y="113.4" width="19.4" height="2.5" fill="#1a1a1a"/>
<rect x="657.2" y="112.8" width="14.9" height="1.3" fill="#dcdddd"/>
<g transform="translate(115.3 -15.7)"><path d="M541.4 109.1 H539 V103.7 H540.2 Q541 103.7 541 102.9 V100.9 Q541 100.1 540.2 100.1 H537.3 Q536.5 100.1 536.5 100.9 V117.4 L535.3 118.6 V120.7 H537.5 V118.9 L539 117.2 V111.6 H541.4" fill="#d8d8d8" stroke="#0a0a0a" stroke-width="1.56" stroke-linejoin="round"/></g>
<path d="M576 208.6 L576 199.7 L616.9 187.9 L645.5 187.9 L645.5 208.6 Z" fill="#dcdddd" stroke="#0a0a0a" stroke-width="1.12" stroke-linejoin="round"/>
<line x1="576" y1="202.9" x2="645.5" y2="202.9" stroke="#0a0a0a" stroke-width="1.38"/>
<line x1="615.5" y1="188.2" x2="645.5" y2="188.2" stroke="#0a0a0a" stroke-width="1.62"/>
<line x1="624" y1="187.9" x2="624" y2="202.6" stroke="#0a0a0a" stroke-width="1.12"/>
<line x1="632.5" y1="187.9" x2="632.5" y2="202.6" stroke="#0a0a0a" stroke-width="1.12"/>
<rect x="624.8" y="199.3" width="6.4" height="3.1" rx="1" fill="#151515"/>
<path d="M516.3 208.6 V201.6 Q516.3 200.3 517.4 199.6 L532.6 189.8 Q533.8 189.1 535 189.6 L548.6 195 L552.6 197.3 Q553.8 198 554.1 199.4 L555 204.2 V208.6 Z" fill="#dcdddd" stroke="#0a0a0a" stroke-width="1.12"/>
<path d="M528 193.6 L533.6 190 L541.6 193.6 Z" fill="#e4e5e5" stroke="#0a0a0a" stroke-width="0.75" stroke-linejoin="round"/>
<path d="M540.2 190.2 L548.9 194 L548.1 195.8 L539.4 192 Z" fill="#1a1a1a" stroke="#0a0a0a" stroke-width="0.62" stroke-linejoin="round"/>
<rect x="516.2" y="208.6" width="39" height="60.1" fill="#dcdddd" stroke="#0a0a0a" stroke-width="1.12"/>
<line x1="519.6" y1="212.5" x2="550.4" y2="212.5" stroke="#444" stroke-width="1.88"/>
<line x1="519.6" y1="218.3" x2="555.2" y2="218.3" stroke="#0a0a0a" stroke-width="1.12"/>
<line x1="519.6" y1="221.7" x2="555.2" y2="221.7" stroke="#555" stroke-width="1.38"/>
<line x1="519.6" y1="255.6" x2="555.2" y2="255.6" stroke="#555" stroke-width="1.38"/>
<line x1="519.6" y1="258.7" x2="555.2" y2="258.7" stroke="#0a0a0a" stroke-width="1.12"/>
<line x1="519.6" y1="264.4" x2="550.4" y2="264.4" stroke="#444" stroke-width="1.88"/>
<rect x="516.6" y="208.6" width="3" height="60.1" fill="#777"/>
<line x1="519.6" y1="208.6" x2="519.6" y2="268.7" stroke="#0a0a0a" stroke-width="1"/>
<line x1="516.8" y1="209" x2="516.8" y2="268.4" stroke="#0a0a0a" stroke-width="1.88"/>
<rect x="550.4" y="209.6" width="4.8" height="7.8" fill="#eee" stroke="#0a0a0a" stroke-width="1.12"/>
<rect x="550.4" y="259.8" width="4.8" height="8.2" fill="#eee" stroke="#0a0a0a" stroke-width="1.12"/>
<rect x="555.2" y="208.6" width="154.3" height="60.1" fill="#dcdddd" stroke="#0a0a0a" stroke-width="1.12"/>
<line x1="610.5" y1="208.6" x2="610.5" y2="268.7" stroke="#0a0a0a" stroke-width="1.75"/>
<line x1="555.2" y1="213.3" x2="626.4" y2="213.3" stroke="#0a0a0a" stroke-width="1.12"/>
<line x1="700" y1="213.3" x2="709.5" y2="213.3" stroke="#0a0a0a" stroke-width="1.12"/>
<rect x="555.6" y="262.4" width="70.8" height="1.4" fill="#9a9a9a"/>
<line x1="555.2" y1="263.9" x2="626.4" y2="263.9" stroke="#0a0a0a" stroke-width="1.12"/>
<line x1="700" y1="264" x2="709.5" y2="264" stroke="#0a0a0a" stroke-width="1.12"/>
<rect x="626.4" y="208.6" width="73.6" height="11.5" fill="#dcdddd" stroke="#0a0a0a" stroke-width="1.12"/>
<line x1="626.4" y1="208.8" x2="700" y2="208.8" stroke="#0a0a0a" stroke-width="1.88"/>
<rect x="626.8" y="218.4" width="72.8" height="1.6" fill="#999"/>
<line x1="626.4" y1="218.3" x2="700" y2="218.3" stroke="#0a0a0a" stroke-width="1.12"/>
<rect x="626.4" y="256.5" width="73.6" height="12.2" fill="#dcdddd" stroke="#0a0a0a" stroke-width="1.12"/>
<rect x="626.8" y="257" width="72.8" height="1.6" fill="#777"/>
<line x1="626.4" y1="263" x2="700" y2="263" stroke="#0a0a0a" stroke-width="1.12"/>
<rect x="626.8" y="263.4" width="72.8" height="1.4" fill="#999"/>
<rect x="709.5" y="203.4" width="20.5" height="70.8" fill="#dcdddd" stroke="#0a0a0a" stroke-width="1.12"/>
<line x1="709.5" y1="210.9" x2="730" y2="210.9" stroke="#0a0a0a" stroke-width="1.25"/>
<line x1="709.5" y1="266.1" x2="730" y2="266.1" stroke="#0a0a0a" stroke-width="1.25"/>
<rect x="730" y="206.9" width="99.6" height="63.4" fill="#dcdddd" stroke="#0a0a0a" stroke-width="1.12"/>
<line x1="730" y1="214.8" x2="829.6" y2="214.8" stroke="#555" stroke-width="1.5"/>
<line x1="730" y1="207.2" x2="829.6" y2="207.2" stroke="#555" stroke-width="1.25"/>
<line x1="730" y1="262.5" x2="829.6" y2="262.5" stroke="#0a0a0a" stroke-width="1.12"/>
<line x1="797.8" y1="206.9" x2="797.8" y2="270.3" stroke="#0a0a0a" stroke-width="1.88"/>
<rect x="829.6" y="207.5" width="280" height="62.2" fill="#dcdddd" stroke="#0a0a0a" stroke-width="1.12"/>
<line x1="829.6" y1="207.8" x2="1109.6" y2="207.8" stroke="#444" stroke-width="1.38"/>
<line x1="829.6" y1="215.4" x2="1109.6" y2="215.4" stroke="#0a0a0a" stroke-width="1.12"/>
<rect x="829.6" y="219.3" width="280" height="2.1" fill="#9a9a9a"/>
<line x1="829.6" y1="219.3" x2="1109.6" y2="219.3" stroke="#0a0a0a" stroke-width="1.12"/>
<line x1="829.6" y1="221.5" x2="1109.6" y2="221.5" stroke="#555" stroke-width="1.12"/>
<line x1="829.6" y1="224.4" x2="1109.6" y2="224.4" stroke="#0a0a0a" stroke-width="1.12"/>
<line x1="829.6" y1="226.3" x2="1109.6" y2="226.3" stroke="#555" stroke-width="1.12"/>
<line x1="829.6" y1="234.5" x2="1109.6" y2="234.5" stroke="#0a0a0a" stroke-width="1.12"/>
<line x1="829.6" y1="243.1" x2="1109.6" y2="243.1" stroke="#0a0a0a" stroke-width="1.12"/>
<line x1="829.6" y1="251.3" x2="1109.6" y2="251.3" stroke="#0a0a0a" stroke-width="1.12"/>
<line x1="829.6" y1="254.2" x2="1109.6" y2="254.2" stroke="#777" stroke-width="1"/>
<line x1="829.6" y1="256.7" x2="1109.6" y2="256.7" stroke="#333" stroke-width="1.12"/>
<line x1="829.6" y1="261.4" x2="1109.6" y2="261.4" stroke="#0a0a0a" stroke-width="1.12"/>
<rect x="1109.6" y="206.7" width="31.9" height="64.1" fill="#dcdddd" stroke="#0a0a0a" stroke-width="1.12"/>
<line x1="1109.6" y1="214.9" x2="1141.5" y2="214.9" stroke="#0a0a0a" stroke-width="1.12"/>
<line x1="1109.6" y1="262.4" x2="1141.5" y2="262.4" stroke="#0a0a0a" stroke-width="1.12"/>
</g>
<rect x="1097.7" y="642.7" width="25.5" height="48.2" fill="#dcdddd" stroke="#0a0a0a" stroke-width="1.12"/>
<line x1="1123.2" y1="642.7" x2="1123.2" y2="690.9" stroke="#0a0a0a" stroke-width="1.88"/>
<rect x="1124.2" y="653.3" width="23.7" height="27" fill="#dcdddd" stroke="#0a0a0a" stroke-width="1.12"/>
<line x1="1126.5" y1="653.3" x2="1126.5" y2="680.3" stroke="#0a0a0a" stroke-width="1.12"/>
<path d="M1147.9 660.4 H1133.8 Q1132.4 660.4 1132.4 662 V671.8 Q1132.4 673.4 1133.8 673.4 H1147.9" fill="#dcdddd" stroke="#0a0a0a" stroke-width="1.12"/>
<path d="M1133.6 661.4 Q1131.6 667 1133.6 672.6 Z" fill="#777" stroke="#555" stroke-width="0.62"/>
<rect x="1147.9" y="658.2" width="2.5" height="17.1" fill="#f2f2f2" stroke="#0a0a0a" stroke-width="1"/>
<rect x="1150.4" y="656.6" width="3.8" height="20.6" fill="#dcdddd" stroke="#0a0a0a" stroke-width="1.12"/>
<path d="M1164.6 656.2 L1188.4 656.2 L1190.4 658.2 L1190.4 675.6 L1188.4 677.6 L1164.6 677.6 Z" fill="#dcdddd" stroke="#0a0a0a" stroke-width="1.12" stroke-linejoin="round"/>
<rect x="1188.9" y="658.4" width="1.3" height="17" fill="#8a8a8a"/>
<path d="M1156 651.4 L1162.8 651.4 L1164.6 653.2 L1164.6 680.7 L1162.8 682.5 L1156 682.5 L1154.2 680.7 L1154.2 653.2 Z" fill="#dcdddd" stroke="#0a0a0a" stroke-width="1.38" stroke-linejoin="round"/>
<path d="M1154.2 665.2 Q1159.4 668.6 1164.6 665.2 M1154.2 668.6 Q1159.4 665.2 1164.6 668.6" fill="none" stroke="#0a0a0a" stroke-width="1.12"/>
<line x1="1154.4" y1="666.9" x2="1164.4" y2="666.9" stroke="#0a0a0a" stroke-width="1.12"/>
<line x1="1110.4" y1="579.8" x2="1110.4" y2="690.9" stroke="#0a0a0a" stroke-width="1"/>
<path d="M1110.4 642.7 L1112.9 656.3 L1107.9 656.3 Z" fill="#0a0a0a"/>
<path d="M1110.4 690.9 L1107.9 677.3 L1112.9 677.3 Z" fill="#0a0a0a"/>
<text transform="translate(1108.2 624.3) rotate(-90)" font-size="15.3" font-style="italic">Ø</text>
<text transform="translate(1108.2 611) rotate(-90)" font-size="15.3" textLength="30" lengthAdjust="spacingAndGlyphs">28g6</text>
<line x1="1169.4" y1="564" x2="1169.4" y2="702.6" stroke="#0a0a0a" stroke-width="1"/>
<path d="M1169.4 656.4 L1166.9 642.8 L1171.9 642.8 Z" fill="#0a0a0a"/>
<path d="M1169.4 677.3 L1171.9 690.9 L1166.9 690.9 Z" fill="#0a0a0a"/>
<text transform="translate(1166.8 627.7) rotate(-90)" font-size="15.3" textLength="62.6" lengthAdjust="spacingAndGlyphs">M12*1.25</text>
<line x1="1097.7" y1="701.4" x2="1097.7" y2="746.7" stroke="#0a0a0a" stroke-width="1"/>
<line x1="1123.3" y1="690.9" x2="1123.3" y2="721.2" stroke="#0a0a0a" stroke-width="1"/>
<line x1="1147.4" y1="679.8" x2="1147.4" y2="721.2" stroke="#0a0a0a" stroke-width="1"/>
<line x1="1190.2" y1="677" x2="1190.2" y2="746.7" stroke="#0a0a0a" stroke-width="1.25"/>
<line x1="1097.7" y1="715" x2="1123.3" y2="715" stroke="#0a0a0a" stroke-width="1"/><path d="M1097.7 715 L1110.7 712.7 L1110.7 717.3 Z" fill="#0a0a0a"/><path d="M1123.3 715 L1110.3 717.3 L1110.3 712.7 Z" fill="#0a0a0a"/>
<line x1="1147.4" y1="715" x2="1190.2" y2="715" stroke="#0a0a0a" stroke-width="1"/><path d="M1147.4 715 L1160.4 712.7 L1160.4 717.3 Z" fill="#0a0a0a"/><path d="M1190.2 715 L1177.2 717.3 L1177.2 712.7 Z" fill="#0a0a0a"/>
<text transform="translate(1112.8 712)" font-size="15.3" text-anchor="middle">15</text>
<text transform="translate(1171 712)" font-size="15.3" text-anchor="middle">25</text>
<line x1="630.3" y1="705.3" x2="630.3" y2="746.5" stroke="#0a0a0a" stroke-width="1"/>
<line x1="630.3" y1="739.4" x2="1097.7" y2="739.4" stroke="#0a0a0a" stroke-width="1"/><path d="M630.3 739.4 L643.3 737.1 L643.3 741.7 Z" fill="#0a0a0a"/><path d="M1097.7 739.4 L1084.7 741.7 L1084.7 737.1 Z" fill="#0a0a0a"/>
<line x1="1097.7" y1="739.4" x2="1190.2" y2="739.4" stroke="#0a0a0a" stroke-width="1"/><path d="M1097.7 739.4 L1110.7 737.1 L1110.7 741.7 Z" fill="#0a0a0a"/><path d="M1190.2 739.4 L1177.2 741.7 L1177.2 737.1 Z" fill="#0a0a0a"/>
<text transform="translate(1143 736.6)" font-size="15.3" text-anchor="middle">54</text>
<text transform="translate(808.2 736.7)" font-size="15.3" textLength="30.2" lengthAdjust="spacingAndGlyphs">173+</text>
<text transform="translate(840.3 737.3)" font-size="15.3" textLength="30.4" lengthAdjust="spacingAndGlyphs" font-weight="300">行程</text>
<text transform="translate(872.6 738.2)" font-size="11.7" class="s" textLength="34.6" lengthAdjust="spacingAndGlyphs">stroke</text>
</g>
</svg>
</body>
</html>
